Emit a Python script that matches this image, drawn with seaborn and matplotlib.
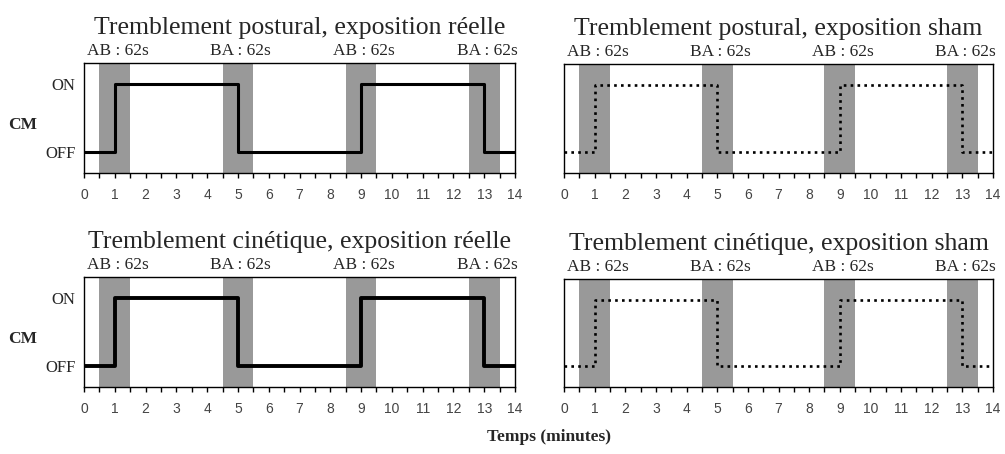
import matplotlib
matplotlib.use('Agg')
import matplotlib.pyplot as plt
import seaborn as sns
import pandas as pd

# données du protocole
temps = [0, 1, 5, 9, 13, 14]
etat_cm = [0, 1, 0, 1, 0, 0]          # 0 = OFF, 1 = ON
debut_transition = [0.5, 4.5, 8.5, 12.5]
duree_transition = 1.0
labels_transition = ['AB : 62s', 'BA : 62s', 'AB : 62s', 'BA : 62s']
titres = ['Tremblement postural, exposition réelle',
          'Tremblement postural, exposition sham',
          'Tremblement cinétique, exposition réelle',
          'Tremblement cinétique, exposition sham']
ticks_x = list(range(0, 15))

df = pd.DataFrame({'temps': temps, 'cm': etat_cm})

sns.set_style('white')
plt.rcParams['font.family'] = ['Liberation Serif', 'DejaVu Serif']

fig = plt.figure(figsize=(10.05, 4.54), dpi=100)
W, H = 1005, 454
# positions des panneaux en pixels (gauche, haut, droite, bas)
boites = [(84, 63, 515, 173), (564, 64, 993, 173),
          (84, 277, 515, 387), (564, 279, 993, 387)]

for i, (g, h, d, b) in enumerate(boites):
    ax = fig.add_axes([g / W, 1 - b / H, (d - g) / W, (b - h) / H])
    for x0, lab in zip(debut_transition, labels_transition):
        ax.axvspan(x0, x0 + duree_transition, color='#999999', lw=0, zorder=0)
        ax.annotate(lab, xy=(x0 + duree_transition / 2, 1), xycoords=('data', 'axes fraction'),
                    xytext=(2, 3), textcoords='offset points', ha='center', va='bottom',
                    fontsize=12.5)
    sham = i % 2 == 1
    lw = 2.2 if i < 2 else 2.8
    if sham:
        sns.lineplot(data=df, x='temps', y='cm', ax=ax, drawstyle='steps-post', estimator=None,
                     color='black', lw=1.9, linestyle=(0, (1, 1.6)))
    else:
        sns.lineplot(data=df, x='temps', y='cm', ax=ax, drawstyle='steps-post', estimator=None,
                     color='black', lw=lw)
    ax.set_xlim(0, 14)
    ax.set_ylim(-0.31, 1.31)
    ax.set_xticks(ticks_x)
    ax.set_xticks([t + 0.5 for t in ticks_x[:-1]], minor=True)
    ax.set_xticklabels([str(t) for t in ticks_x], family='Liberation Sans', fontsize=10, color='#444444')
    ax.tick_params(axis='x', which='both', direction='out', length=3.5, width=1, color='black',
                   bottom=True, pad=7)
    ax.set_xlabel('')
    for s in ax.spines.values():
        s.set_color('black')
        s.set_linewidth(1)
    ax.set_title(titres[i], fontsize=18.5, pad=21)
    if sham:
        ax.set_yticks([])
        ax.set_ylabel('')
    else:
        ax.set_yticks([0, 1])
        ax.set_yticklabels(['OFF', 'ON'], fontsize=12)
        ax.tick_params(axis='y', length=0, pad=6)
        ax.set_ylabel('CM', rotation=0, fontweight='bold', fontsize=12.5, ha='center', va='center')
        ax.yaxis.set_label_coords(-0.142, 0.44)

fig.text(549 / W, 1 - 437 / H, 'Temps (minutes)', fontweight='bold', fontsize=12.5,
         ha='center', va='center')

fig.savefig('out.png', dpi=100, facecolor='white')
